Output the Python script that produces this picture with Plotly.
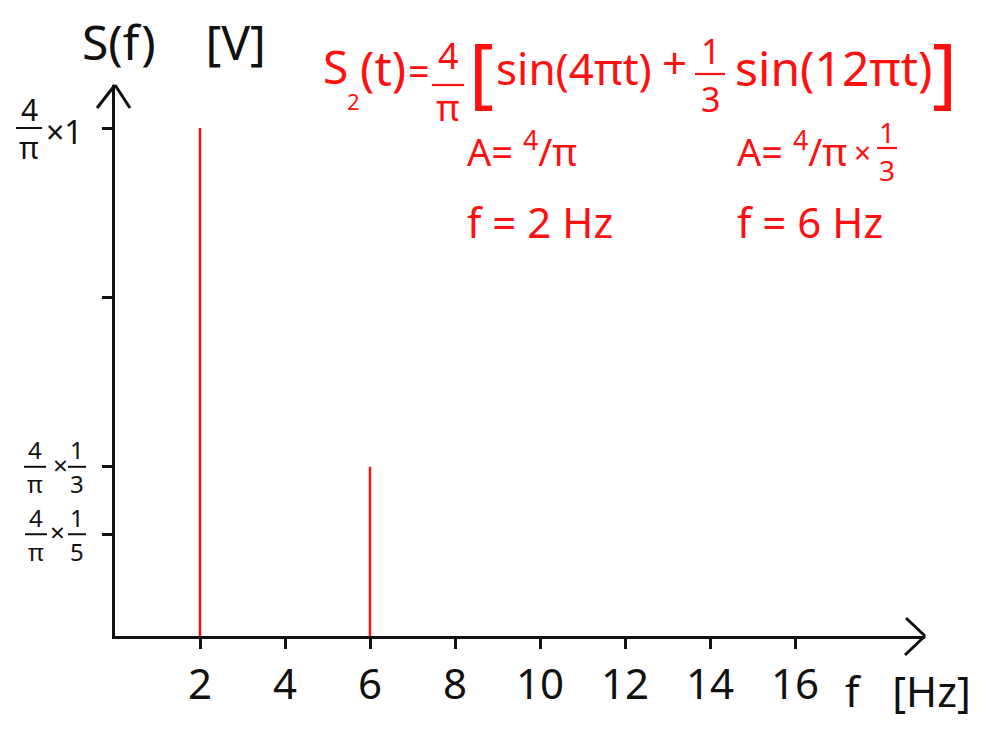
import plotly.graph_objects as go

# ---- data ----
freqs = [2, 6]                      # Hz
amps = [1.273, 0.424]               # 4/pi, 4/pi * 1/3
x_tick_vals = [2, 4, 6, 8, 10, 12, 14, 16]
x_tick_text = ["2", "4", "6", "8", "10", "12", "14", "16"]
y_tick_vals = [1.273, 0.849, 0.424, 0.255]

FONT = "Noto Sans"
RED = "#ff1010"
BLACK = "#111111"

# plot-area geometry (page pixels)
L, R, T, B = 115, 71, 85, 96
WIDTH, HEIGHT = 996, 732
W = WIDTH - L - R
H = HEIGHT - T - B
BOT = HEIGHT - B
X_PER_UNIT = 42.5
Y_PER_UNIT = (636 - 128) / 1.273

def px(x):
    return (x - L) / W

def py(y):
    return (BOT - y) / H

annotations = []
shapes = []

def text(x, y, s, size, color, xanchor="center", height=None):
    a = dict(x=px(x), y=py(y), xref="paper", yref="paper", text=s,
             showarrow=False, xanchor=xanchor, yanchor="middle",
             font=dict(family=FONT, size=size, color=color))
    if height:
        a["height"] = height
    annotations.append(a)

def line(x0, y0, x1, y1, color, width=2.5):
    shapes.append(dict(type="line", xref="paper", yref="paper",
                       x0=px(x0), y0=py(y0), x1=px(x1), y1=py(y1),
                       line=dict(color=color, width=width)))

def frac(cx, ynum, ybar, yden, num, den, size, color, w):
    text(cx, ynum, num, size, color, height=int(size * 0.8))
    text(cx, yden, den, size, color, height=int(size * 0.8))
    line(cx - w / 2, ybar, cx + w / 2, ybar, color, 2.2)

def yfrac(val, cx, num, den, size, w, dnum, dden):
    for s, d in ((num, dnum), (den, dden)):
        annotations.append(dict(x=px(cx), y=val, xref="paper", yref="y", text=s,
                                showarrow=False, xanchor="center", yanchor="middle",
                                yshift=-d, height=int(size * 0.8),
                                font=dict(family=FONT, size=size, color=BLACK)))
    shapes.append(dict(type="line", xref="paper", yref="y", x0=px(cx - w / 2), x1=px(cx + w / 2),
                       y0=val, y1=val, line=dict(color=BLACK, width=2)))

def ytext(val, cx, s, size, dy):
    annotations.append(dict(x=px(cx), y=val, xref="paper", yref="y", text=s,
                            showarrow=False, xanchor="center", yanchor="middle",
                            yshift=-dy, height=int(size * 0.8),
                            font=dict(family=FONT, size=size, color=BLACK)))

# ---- spikes ----
xs, ys = [], []
for f, a in zip(freqs, amps):
    xs += [f, f, None]
    ys += [0, a, None]

fig = go.Figure()
fig.add_trace(go.Scatter(x=xs, y=ys, mode="lines", line=dict(color=RED, width=2.5),
                         hoverinfo="skip", showlegend=False, cliponaxis=False))

# ---- y tick labels (fractions) ----
yfrac(y_tick_vals[0], 29, "4", "π", 30, 26, -19, 19)
ytext(y_tick_vals[0], 64, "×1", 32, 3)
yfrac(y_tick_vals[2], 35, "4", "π", 24, 22, -17, 17)
ytext(y_tick_vals[2], 60, "×", 26, -2)
yfrac(y_tick_vals[2], 77, "1", "3", 24, 18, -17, 17)
yfrac(y_tick_vals[3], 36, "4", "π", 24, 22, -17, 17)
ytext(y_tick_vals[3], 58, "×", 26, -2)
yfrac(y_tick_vals[3], 77, "1", "5", 24, 18, -17, 17)

# ---- axis titles ----
text(80, 42, "S(f)    [V]", 48, BLACK, "left")
text(843, 690, "f   [Hz]", 42, BLACK, "left")

# ---- red formula ----
text(321, 66, "S", 46, RED, "left")
text(353, 101, "2", 22, RED, height=18)
text(358, 68, "(t)", 48, RED, "left")
text(419, 70, "=", 38, RED)
frac(448, 55, 85, 107, "4", "π", 36, RED, 32)
text(481, 70, "[", 76, RED)
text(494, 68, "sin(4πt)", 44, RED, "left")
text(674, 62, "+", 44, RED)
frac(710, 50, 74, 98, "1", "3", 34, RED, 30)
text(733, 68, "sin(12πt)", 48, RED, "left")
text(944, 70, "]", 76, RED)

text(465, 150, "A= <sup>4</sup>/π", 38, RED, "left")
text(465, 222, "f = 2 Hz", 42, RED, "left")
text(735, 150, "A= <sup>4</sup>/π", 38, RED, "left")
text(862, 152, "×", 30, RED)
frac(887, 132, 148, 170, "1", "3", 28, RED, 20)
text(735, 222, "f = 6 Hz", 42, RED, "left")

# ---- arrow heads ----
line(115, 85, 97, 108, BLACK, 3)
line(115, 85, 130, 108, BLACK, 3)
line(925, 636, 906, 618, BLACK, 3)
line(925, 636, 905, 655, BLACK, 3)

fig.update_layout(
    width=WIDTH, height=HEIGHT, autosize=False,
    margin=dict(l=L, r=R, t=T, b=B),
    paper_bgcolor="white", plot_bgcolor="white",
    showlegend=False,
    annotations=annotations, shapes=shapes,
    xaxis=dict(range=[0, W / X_PER_UNIT], showgrid=False, zeroline=False,
               showline=True, linewidth=3, linecolor=BLACK,
               tickmode="array", tickvals=x_tick_vals, ticktext=x_tick_text,
               ticks="outside", ticklen=10, tickwidth=2.5, tickcolor=BLACK,
               ticklabelstandoff=0,
               tickfont=dict(family=FONT, size=42, color=BLACK)),
    yaxis=dict(range=[0, H / Y_PER_UNIT], showgrid=False, zeroline=False,
               showline=True, linewidth=3, linecolor=BLACK,
               tickmode="array", tickvals=y_tick_vals, showticklabels=False,
               ticks="outside", ticklen=10, tickwidth=2.5, tickcolor=BLACK),
)

fig.write_html("out.html", config={"displayModeBar": False},
               post_script="document.body.style.margin='0px';")
